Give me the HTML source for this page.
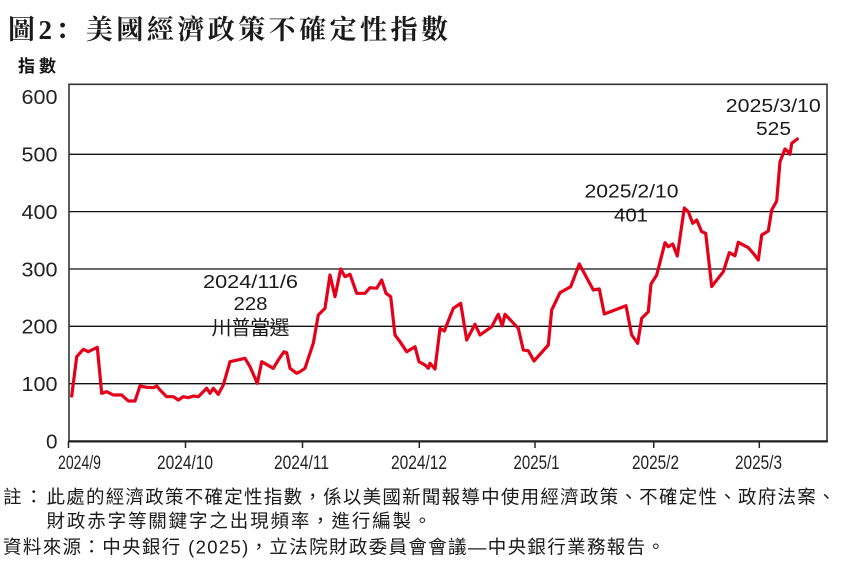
<!DOCTYPE html>
<html><head><meta charset="utf-8">
<style>
html,body{margin:0;padding:0;background:#fff;}
svg{display:block;}
.cjk{font-family:"Liberation Sans","Noto Sans CJK TC","Noto Sans CJK SC",sans-serif;}
.lat{font-family:"Liberation Sans",sans-serif;}
</style></head>
<body>
<svg width="842" height="564" viewBox="0 0 842 564" xmlns="http://www.w3.org/2000/svg">
<rect width="842" height="564" fill="#fff"/>
<!-- Title -->
<text x="8" y="39" font-family="'Liberation Serif','Noto Serif CJK SC',serif" font-weight="700" font-size="27" fill="#1a1a1a" textLength="440" lengthAdjust="spacing">圖2：美國經濟政策不確定性指數</text>
<!-- y-axis title -->
<text x="18" y="72" class="cjk" font-weight="700" font-size="17" fill="#111" textLength="38" lengthAdjust="spacing">指數</text>

<!-- gridlines -->
<g stroke="#111" stroke-width="1.3">
<line x1="69" y1="154.3" x2="827" y2="154.3"/>
<line x1="69" y1="211.6" x2="827" y2="211.6"/>
<line x1="69" y1="269" x2="827" y2="269"/>
<line x1="69" y1="326.3" x2="827" y2="326.3"/>
<line x1="69" y1="383.7" x2="827" y2="383.7"/>
</g>
<!-- frame -->
<rect x="69" y="84.3" width="758" height="356.7" fill="none" stroke="#333" stroke-width="1.6"/>
<line x1="68.2" y1="441.5" x2="827.8" y2="441.5" stroke="#222" stroke-width="2"/>
<!-- ticks -->
<g stroke="#222" stroke-width="1.5">
<line x1="68.5" y1="441" x2="68.5" y2="448"/>
<line x1="185.5" y1="441" x2="185.5" y2="448"/>
<line x1="302.5" y1="441" x2="302.5" y2="448"/>
<line x1="419.3" y1="441" x2="419.3" y2="448"/>
<line x1="535" y1="441" x2="535" y2="448"/>
<line x1="653.7" y1="441" x2="653.7" y2="448"/>
<line x1="759.3" y1="441" x2="759.3" y2="448"/>
</g>
<!-- y labels -->
<g class="lat" font-size="20" fill="#222" text-anchor="end">
<text x="57.5" y="104" textLength="36" lengthAdjust="spacingAndGlyphs">600</text>
<text x="57.5" y="161.5" textLength="36" lengthAdjust="spacingAndGlyphs">500</text>
<text x="57.5" y="219" textLength="36" lengthAdjust="spacingAndGlyphs">400</text>
<text x="57.5" y="276.5" textLength="36" lengthAdjust="spacingAndGlyphs">300</text>
<text x="57.5" y="333.5" textLength="36" lengthAdjust="spacingAndGlyphs">200</text>
<text x="57.5" y="391" textLength="36" lengthAdjust="spacingAndGlyphs">100</text>
<text x="57.5" y="448.5" textLength="11.5" lengthAdjust="spacingAndGlyphs">0</text>
</g>
<!-- x labels -->
<g class="lat" font-size="19" fill="#222">
<text x="58" y="469" textLength="43" lengthAdjust="spacingAndGlyphs">2024/9</text>
<text x="157" y="469" textLength="56" lengthAdjust="spacingAndGlyphs">2024/10</text>
<text x="274" y="469" textLength="55" lengthAdjust="spacingAndGlyphs">2024/11</text>
<text x="391" y="469" textLength="56" lengthAdjust="spacingAndGlyphs">2024/12</text>
<text x="513.5" y="469" textLength="46" lengthAdjust="spacingAndGlyphs">2025/1</text>
<text x="632" y="469" textLength="47" lengthAdjust="spacingAndGlyphs">2025/2</text>
<text x="735" y="469" textLength="47" lengthAdjust="spacingAndGlyphs">2025/3</text>
</g>

<!-- series -->
<polyline fill="none" stroke="#e5001a" stroke-width="3.2" stroke-linejoin="round" stroke-linecap="round" points="
71.7,396 76.7,356.7 83.3,349.3 88.3,351.7 91.7,350 97.3,347.3 101.7,393.3 106.7,391.7 113.3,395 121.7,395 128.3,401 135,401 140,386 146.7,387.3 153.3,387.7 156.7,386 160,390 166.7,396.7 173.3,396.7 178.3,400 183.3,396.7 188.3,397.7 193.3,396 198.3,396.7 206.7,388.3 210,393.3 213.3,388.3 218.3,394.3 223.3,385 230,361.7 245,358.3 250,366.7 257.3,383.3 261.7,361.7 273.3,368.3 278.3,360 284,351.7 286.7,352.7 290,368.3 296.7,373.3 300,371.7 305,368.3 308.3,358.3 313.3,343.3 318.3,315 325,308.3 330,275 335,296.7 340.7,269 345,276.7 350,274.3 356.7,293.3 365,293.3 370,287.7 376.7,288.3 381.7,280 386,293.3 390.7,296.7 395,335 400,341.7 406.7,351.7 415,346.7 419,361.7 425,365 428.3,368.3 430,363.3 435,369 440,328.3 444.3,331 453.3,308.3 460.7,303.3 466.7,340 475,324.3 480,335 491.7,326.7 498.3,314.3 502.3,325.7 505,314.3 518.3,328.3 523.3,350 528.3,350.7 534,361 548.3,345 551.7,310 560,292.7 570.7,286.7 579.3,264 593.3,290 599.3,289 604.3,314 626,305.7 631.7,335 637.7,343.3 641.7,318.3 648.3,311.7 651,284 656.7,275 665,242.7 668.3,246.7 672.7,244 677.3,256 684.3,208 688.3,211.7 692.7,223.3 696.7,220 701.7,231.7 705.7,233.3 711.7,286.5 723.3,271.7 729.3,252.7 735,255.7 738.3,242.3 748.3,247.7 753.3,253.3 758.3,260 761.7,235 768.3,231 771.7,210 776.7,201 780,161.7 785,149 787.3,151 790,154.3 791.7,143.3 797.3,139"/>

<!-- annotations -->
<g class="lat" font-size="18.5" fill="#1a1a1a" text-anchor="middle">
<text x="250.5" y="288" textLength="95" lengthAdjust="spacingAndGlyphs">2024/11/6</text>
<text x="250.5" y="310" textLength="34" lengthAdjust="spacingAndGlyphs">228</text>
<text x="631.5" y="197.5" textLength="94" lengthAdjust="spacingAndGlyphs">2025/2/10</text>
<text x="631" y="221.5" textLength="34" lengthAdjust="spacingAndGlyphs">401</text>
<text x="773.3" y="112" textLength="95" lengthAdjust="spacingAndGlyphs">2025/3/10</text>
<text x="773.5" y="135" textLength="35" lengthAdjust="spacingAndGlyphs">525</text>
</g>
<text x="211.5" y="334.5" class="cjk" font-size="20" fill="#1a1a1a" textLength="78" lengthAdjust="spacing">川普當選</text>

<!-- footnotes -->
<g class="cjk" font-size="18.5" fill="#1a1a1a">
<text x="3" y="503.5" textLength="40" lengthAdjust="spacing">註：</text>
<text x="46.5" y="503.5" textLength="789" lengthAdjust="spacing">此處的經濟政策不確定性指數，係以美國新聞報導中使用經濟政策、不確定性、政府法案、</text>
<text x="46.5" y="527.5" textLength="385" lengthAdjust="spacing">財政赤字等關鍵字之出現頻率，進行編製。</text>
<text x="3" y="553.5" textLength="662" lengthAdjust="spacing">資料來源：中央銀行 (2025)，立法院財政委員會會議—中央銀行業務報告。</text>
</g>
</svg>
</body></html>
